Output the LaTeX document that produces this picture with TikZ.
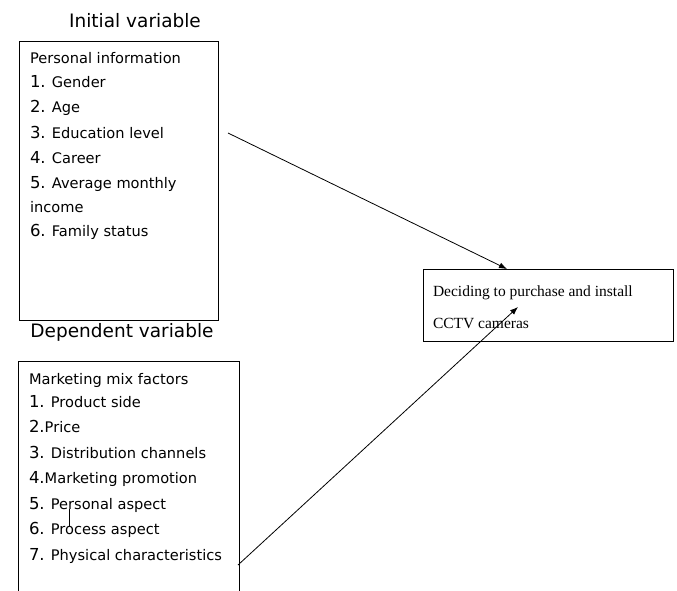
\documentclass[tikz,border=0pt]{standalone}
\usepackage{fontspec}
\setmainfont{DejaVu Sans}
\newfontfamily\serifface{Liberation Serif}
\usepackage{tikz}
\usetikzlibrary{arrows.meta}
\newcommand{\itemno}[1]{{\fontsize{16.5}{18}\selectfont #1}}

\begin{document}
\begin{tikzpicture}[x=1pt, y=-1pt]
			\tikzstyle{every node}=[inner sep=0pt, outer sep=0pt];
			\tikzstyle{txt}=[anchor=base west, font=\fontsize{14.6}{16}\selectfont];
			\tikzstyle{head}=[anchor=base, font=\fontsize{18.5}{20}\selectfont];
			\tikzstyle{frame}=[draw, line width=0.9pt, anchor=north west];
			
			\useasboundingbox (0, 0) rectangle (677, 591);
			\clip (0, 0) rectangle (677, 591);
			
			%Initial variable box
			\node[head] (initial) at (135, 28) {Initial variable};
			\node[frame, minimum width=199pt, minimum height=279pt] (pbox) at (19, 41) {};
			\node[txt] (p0) at (30, 64) {Personal information};
			\node[txt] (p1) at (30, 88) {\itemno{1.} Gender};
			\node[txt] (p2) at (30, 113) {\itemno{2.} Age};
			\node[txt] (p3) at (30, 139) {\itemno{3.} Education level};
			\node[txt] (p4) at (30, 163) {\itemno{4.} Career};
			\node[txt] (p5) at (30, 188) {\itemno{5.} Average monthly};
			\node[txt] (p5b) at (30, 212) {income};
			\node[txt] (p6) at (30, 236) {\itemno{6.} Family status};
			
			%Dependent variable box
			\node[head] (dependent) at (122, 337) {Dependent variable};
			\node[frame, minimum width=221pt, minimum height=260pt] (mbox) at (18, 361) {};
			\node[txt] (m0) at (29, 384) {Marketing mix factors};
			\node[txt] (m1) at (29, 407) {\itemno{1.} Product side};
			\node[txt] (m2) at (29, 432) {\itemno{2.}Price};
			\node[txt] (m3) at (29, 458) {\itemno{3.} Distribution channels};
			\node[txt] (m4) at (29, 483) {\itemno{4.}Marketing promotion};
			\node[txt] (m5) at (29, 509) {\itemno{5.} Personal aspect};
			\node[txt] (m6) at (29, 534) {\itemno{6.} Process aspect};
			\node[txt] (m7) at (29, 560) {\itemno{7.} Physical characteristics};
			\coordinate (caretTop) at (69, 509);
			\coordinate (caretBot) at (69, 526);
			\draw[line width=0.6pt] (caretTop) -- (caretBot);
			
			%Decision box
			\node[frame, minimum width=250pt, minimum height=72pt] (dbox) at (423, 269) {};
			\node[anchor=base west, font=\serifface\fontsize{15.5}{17}\selectfont] (d1) at (433, 296) {Deciding to purchase and install};
			\node[anchor=base west, font=\serifface\fontsize{15.5}{17}\selectfont] (d2) at (433, 328) {CCTV cameras};
			
			%Arrows
			\coordinate (pStart) at (228, 133);
			\coordinate (pEnd) at (507, 269);
			\coordinate (mStart) at (238, 565);
			\coordinate (mEnd) at (518, 307);
			\draw[-{Latex[length=8pt, width=6pt]}, line width=0.8pt] (pStart) -- (pEnd);
			\draw[-{Latex[length=8pt, width=6pt]}, line width=0.8pt] (mStart) -- (mEnd);
\end{tikzpicture}
\end{document}
